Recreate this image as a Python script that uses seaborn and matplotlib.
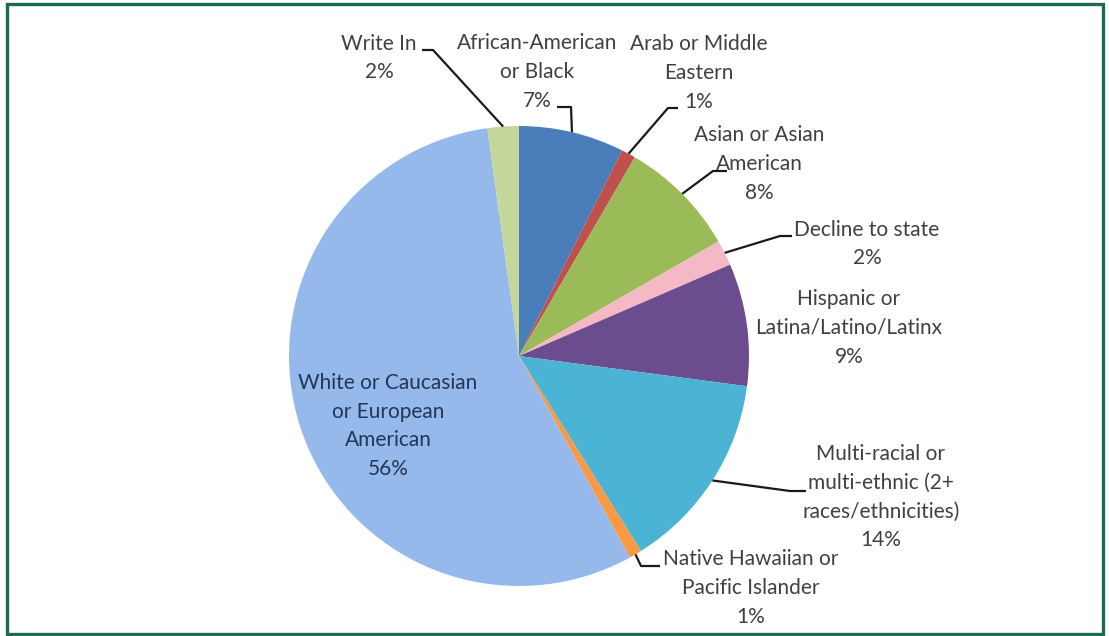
import numpy as np
import matplotlib
matplotlib.use("Agg")
import matplotlib.pyplot as plt
import seaborn as sns
from matplotlib.patches import Rectangle

sns.set_theme(style="white")
plt.rcParams['font.family'] = ['Lato', 'DejaVu Sans']

# slice data, clockwise from 12 o'clock
categories = ["African-American or Black", "Arab or Middle Eastern",
              "Asian or Asian American", "Decline to state",
              "Hispanic or Latina/Latino/Latinx",
              "Multi-racial or multi-ethnic (2+ races/ethnicities)",
              "Native Hawaiian or Pacific Islander",
              "White or Caucasian or European American", "Write In"]
shares = [7.4, 1.0, 8.3, 1.8, 8.6, 14.0, 0.9, 55.8, 2.2]
wrapped = ["African-American\nor Black", "Arab or Middle\nEastern",
           "Asian or Asian\nAmerican", "Decline to state",
           "Hispanic or\nLatina/Latino/Latinx",
           "Multi-racial or\nmulti-ethnic (2+\nraces/ethnicities)",
           "Native Hawaiian or\nPacific Islander",
           "White or Caucasian\nor European\nAmerican", "Write In"]
colors = ["#4A7EBB", "#C0504D", "#9BBB59", "#F4B9C4", "#6B4C8F",
          "#4BB4D4", "#F79A46", "#96B9EB", "#C4D79B"]

# layout in pixel coords (y down): label centre, leader elbow, leader end
W, H = 1109, 636
center = (519, 356)
radius = 230
label_pos = [(537, 72), (699, 73), (759, 164), (867, 244), (849, 328),
             (881, 497), (751, 588), (388, 426), (379, 58)]
leaders = [[(571, 107), (557, 107)], [(668, 108), (678, 108)],
           [(713, 171), (727, 171)], [(780, 236), (792, 236)], None,
           [(790, 491), (806, 491)], [(641, 566), (660, 566)], None,
           [(433, 50), (422, 50)]]

fig = plt.figure(figsize=(W / 100, H / 100), dpi=100)
ax = fig.add_axes([0, 0, 1, 1])

# y axis inverted -> startangle -90 with counterclock draws clockwise from top
wedges, _ = ax.pie(shares, colors=colors, startangle=-90, counterclock=True,
                   center=center, radius=radius,
                   wedgeprops=dict(linewidth=0))
ax.set_xlim(0, W)
ax.set_ylim(H, 0)
ax.set_aspect('equal')
ax.axis('off')

for i, w in enumerate(wedges):
    pct = f"{round(shares[i])}%"
    inside = categories[i].startswith("White")
    ax.text(label_pos[i][0], label_pos[i][1], wrapped[i] + "\n" + pct,
            ha='center', va='center', fontsize=15, linespacing=1.55,
            color="#22365A" if inside else "#404040")
    if leaders[i] is not None:
        mid = np.deg2rad((w.theta1 + w.theta2) / 2)
        sx = center[0] + radius * np.cos(mid)
        sy = center[1] + radius * np.sin(mid)
        xs = [sx] + [p[0] for p in leaders[i]]
        ys = [sy] + [p[1] for p in leaders[i]]
        ax.plot(xs, ys, color="#1a1a1a", lw=1.6, solid_capstyle='butt')

# outer frame
fig.patches.append(Rectangle((7 / W, 2 / H), 1096 / W, 630 / H,
                             transform=fig.transFigure, fill=False,
                             edgecolor="#1E6B55", linewidth=2.4))

fig.savefig("out.png", dpi=100, facecolor="white")
